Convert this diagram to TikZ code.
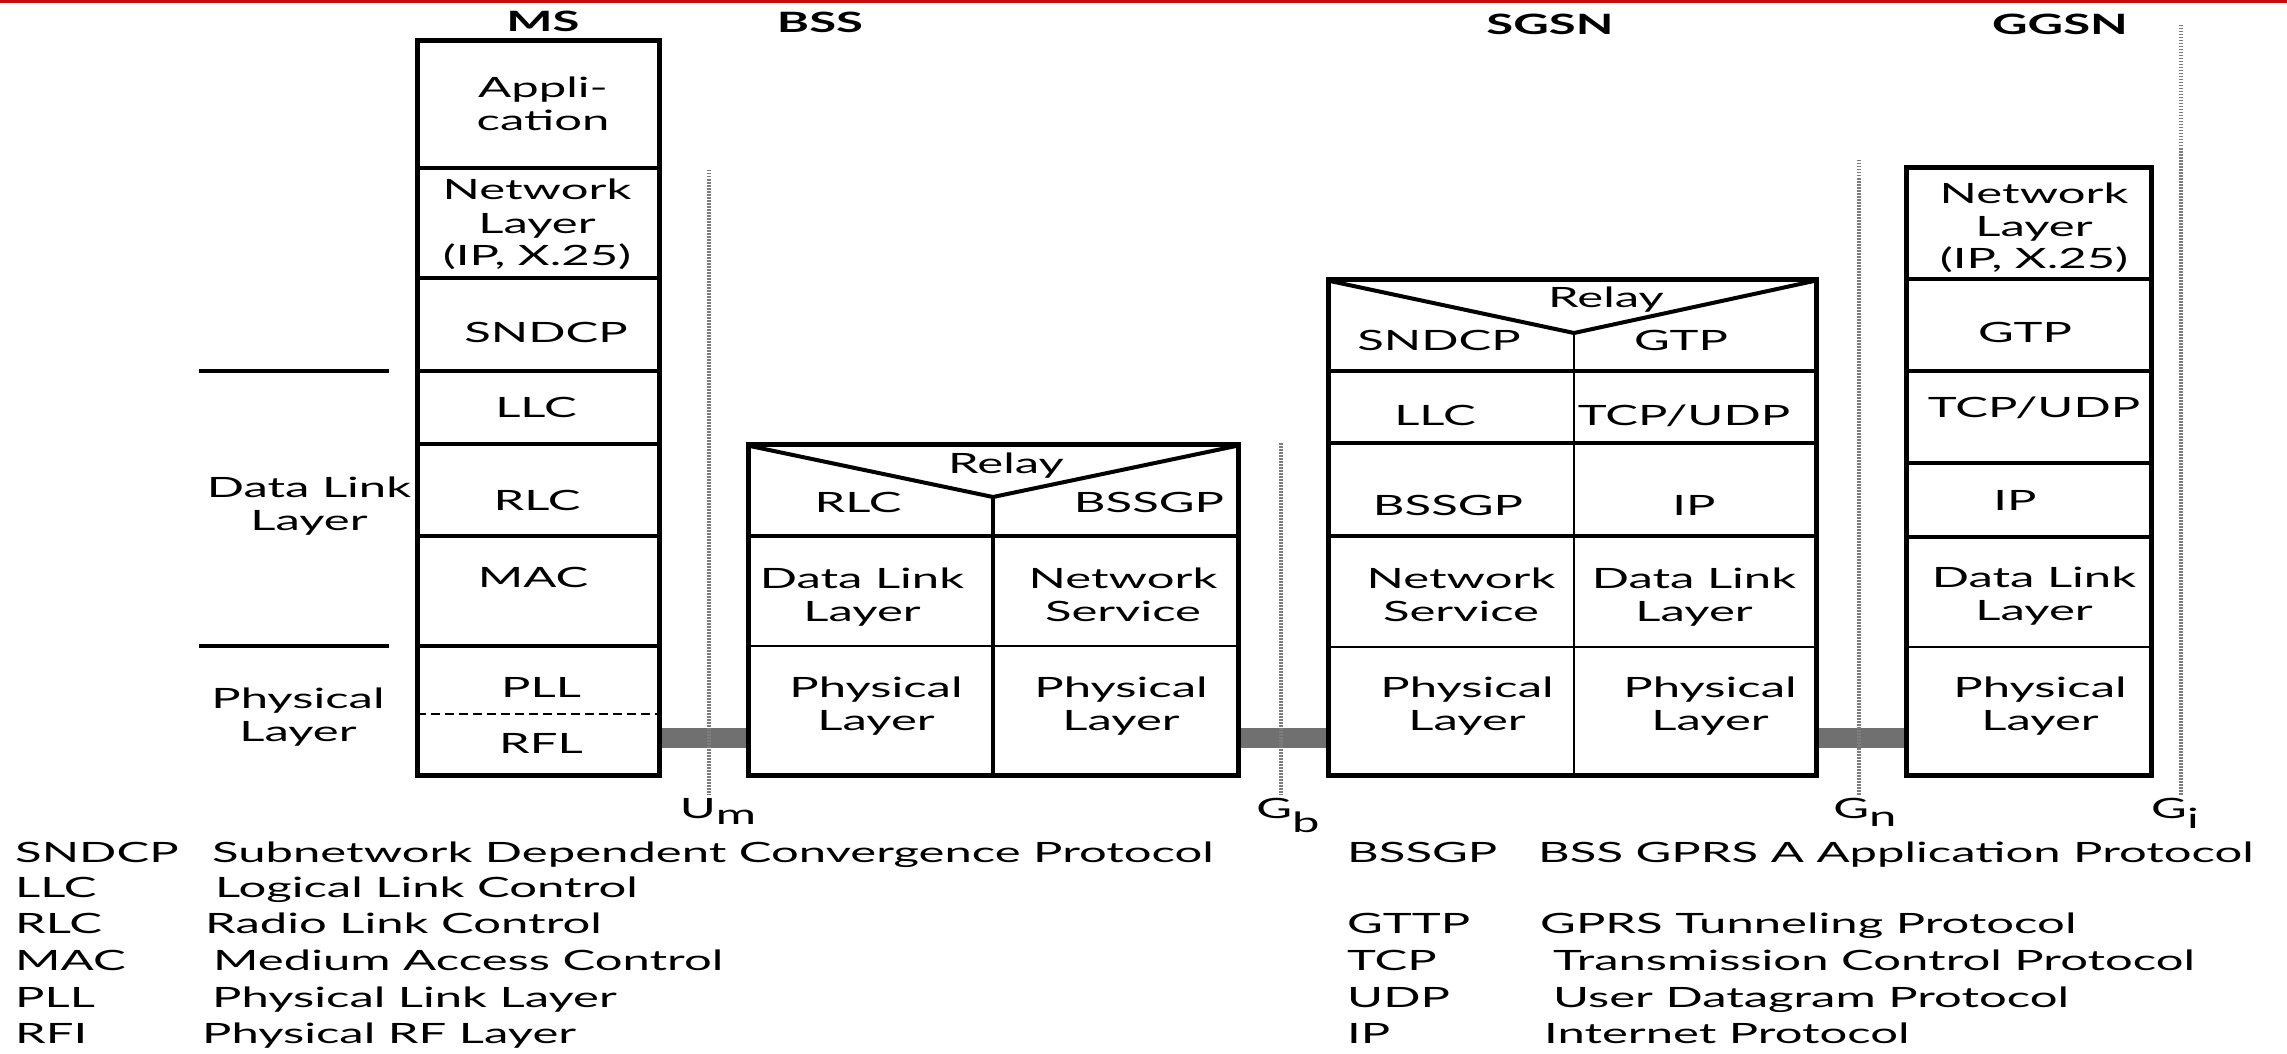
\documentclass[tikz,border=0pt]{standalone}
\usepackage{fontspec}
\setmainfont{Lato}
\usepackage{graphicx}
\newcommand{\fsz}{\fontsize{28}{33}\selectfont}
\newcommand{\st}[1]{\scalebox{1.75}[1]{\begin{tabular}[t]{@{}c@{}}#1\end{tabular}}}
\newcommand{\stl}[1]{\scalebox{1.75}[1]{#1}}
\definecolor{barc}{RGB}{112,112,112}
\definecolor{dotc}{RGB}{125,125,125}
\definecolor{redc}{RGB}{200,10,10}
\begin{document}
\begin{tikzpicture}[x=1pt,y=-1pt,
  lbl/.style={anchor=base,inner sep=0pt,font=\fsz},
  hdr/.style={anchor=base,inner sep=0pt,font=\fsz\bfseries},
  leg/.style={anchor=base west,inner sep=0pt,font=\fsz},
  outer/.style={line width=5pt},
  divthick/.style={line width=4pt},
  divthin/.style={line width=2.5pt},
  ifline/.style={draw=dotc,line width=3.5pt,dash pattern=on 1.5pt off 1.5pt},
  bar/.style={fill=barc,draw=none}]
\useasboundingbox (0,0) rectangle (2287,1054);
\fill[redc] (0,0) rectangle (2287,3);

% ---------- headers ----------
\node[hdr] (hMS) at (543,32) {\stl{MS}};
\node[hdr] (hBSS) at (820,33) {\stl{BSS}};
\node[hdr] (hSGSN) at (1550,35) {\stl{SGSN}};
\node[hdr] (hGGSN) at (2060,35) {\stl{GGSN}};

% ---------- gray bars ----------
\fill[bar] (659,728) rectangle (748,748);
\fill[bar] (1238,728) rectangle (1328,748);
\fill[bar] (1816,728) rectangle (1906,748);

% ---------- interface lines ----------
\coordinate (um1) at (709,170); \coordinate (um2) at (709,795);
\coordinate (gb1) at (1281,443); \coordinate (gb2) at (1281,795);
\coordinate (gn1) at (1859,160); \coordinate (gn2) at (1859,795);
\coordinate (gi1) at (2181,25);  \coordinate (gi2) at (2181,795);
\draw[ifline] (um1) -- (um2);
\draw[ifline] (gb1) -- (gb2);
\draw[ifline] (gn1) -- (gn2);
\draw[ifline] (gi1) -- (gi2);
\node[lbl] (lUm) at (718,818) {\stl{U\raisebox{-6pt}{m}}};
\node[lbl] (lGb) at (1288,818) {\stl{G\raisebox{-14pt}{b}}};
\node[lbl] (lGn) at (1865,818) {\stl{G\raisebox{-8pt}{n}}};
\node[lbl] (lGi) at (2175,818) {\stl{G\raisebox{-10pt}{i}}};

% ---------- MS stack ----------
\draw[divthick] (417,168) -- (659,168);
\draw[divthick] (417,278) -- (659,278);
\draw[divthick] (417,371) -- (659,371);
\draw[divthick] (417,444) -- (659,444);
\draw[divthick] (417,536) -- (659,536);
\draw[divthick] (417,646) -- (659,646);
\draw[line width=2.5pt,dash pattern=on 9pt off 5pt] (417,714) -- (659,714);
\draw[outer] (417,41) rectangle (659,775);
\node[lbl] (msApp) at (543,98) {\st{Appli-\\cation}};
\node[lbl] (msNL) at (537,200) {\st{Network\\Layer\\(IP, X.25)}};
\node[lbl] (msSN) at (546,342) {\stl{SNDCP}};
\node[lbl] (msLLC) at (536,417) {\stl{LLC}};
\node[lbl] (msRLC) at (537,510) {\stl{RLC}};
\node[lbl] (msMAC) at (533,587) {\stl{MAC}};
\node[lbl] (msPLL) at (541,697) {\stl{PLL}};
\node[lbl] (msRFL) at (541,753) {\stl{RFL}};

% left brackets
\draw[divthick] (199,371) -- (389,371);
\draw[divthick] (199,646) -- (389,646);
\node[lbl] (dll) at (309,497) {\st{Data Link\\Layer}};
\node[lbl] (phy) at (298,708) {\st{Physical\\Layer}};

% ---------- BSS ----------
\draw[divthick] (748,536) -- (1238,536);
\draw[divthin] (748,646) -- (1238,646);
\draw[divthick] (993,497) -- (993,775);
\draw[divthick,line join=miter] (750,446) -- (993,497) -- (1236,446);
\draw[outer] (748,444) rectangle (1238,775);
\node[lbl] (bRelay) at (1006,473) {\stl{Relay}};
\node[lbl] (bRLC) at (858,512) {\stl{RLC}};
\node[lbl] (bBSSGP) at (1149,512) {\stl{BSSGP}};
\node[lbl] (bDLL) at (862,588) {\st{Data Link\\Layer}};
\node[lbl] (bNS) at (1123,588) {\st{Network\\Service}};
\node[lbl] (bPL1) at (876,697) {\st{Physical\\Layer}};
\node[lbl] (bPL2) at (1121,697) {\st{Physical\\Layer}};

% ---------- SGSN ----------
\draw[divthick] (1328,371) -- (1816,371);
\draw[divthick] (1328,443) -- (1816,443);
\draw[divthick] (1328,536) -- (1816,536);
\draw[divthin] (1328,647) -- (1816,647);
\draw[divthin] (1574,333) -- (1574,775);
\draw[divthick,line join=miter] (1330,281) -- (1574,333) -- (1814,281);
\draw[outer] (1328,279) rectangle (1816,775);
\node[lbl] (sRelay) at (1606,307) {\stl{Relay}};
\node[lbl] (sSN) at (1439,350) {\stl{SNDCP}};
\node[lbl] (sGTP) at (1681,350) {\stl{GTP}};
\node[lbl] (sLLC) at (1435,425) {\stl{LLC}};
\node[lbl] (sTCP) at (1684,425) {\stl{TCP/UDP}};
\node[lbl] (sBSSGP) at (1448,515) {\stl{BSSGP}};
\node[lbl] (sIP) at (1694,515) {\stl{IP}};
\node[lbl] (sNS) at (1461,588) {\st{Network\\Service}};
\node[lbl] (sDLL) at (1694,588) {\st{Data Link\\Layer}};
\node[lbl] (sPL1) at (1467,697) {\st{Physical\\Layer}};
\node[lbl] (sPL2) at (1710,697) {\st{Physical\\Layer}};

% ---------- GGSN ----------
\draw[divthick] (1906,279) -- (2151,279);
\draw[divthick] (1906,371) -- (2151,371);
\draw[divthick] (1906,463) -- (2151,463);
\draw[divthick] (1906,537) -- (2151,537);
\draw[divthin] (1906,647) -- (2151,647);
\draw[outer] (1906,168) rectangle (2151,775);
\node[lbl] (gNL) at (2034,203) {\st{Network\\Layer\\(IP, X.25)}};
\node[lbl] (gGTP) at (2025,342) {\stl{GTP}};
\node[lbl] (gTCP) at (2034,417) {\stl{TCP/UDP}};
\node[lbl] (gIP) at (2015,510) {\stl{IP}};
\node[lbl] (gDLL) at (2034,587) {\st{Data Link\\Layer}};
\node[lbl] (gPL) at (2040,697) {\st{Physical\\Layer}};

% ---------- legend ----------
\node[leg] (a1) at (15,862) {\stl{SNDCP}};
\node[leg] (d1) at (212,862) {\stl{Subnetwork Dependent Convergence Protocol}};
\node[leg] (a2) at (15,897) {\stl{LLC}};
\node[leg] (d2) at (215,897) {\stl{Logical Link Control}};
\node[leg] (a3) at (15,933) {\stl{RLC}};
\node[leg] (d3) at (205,933) {\stl{Radio Link Control}};
\node[leg] (a4) at (15,970) {\stl{MAC}};
\node[leg] (d4) at (213,970) {\stl{Medium Access Control}};
\node[leg] (a5) at (15,1007) {\stl{PLL}};
\node[leg] (d5) at (212,1007) {\stl{Physical Link Layer}};
\node[leg] (a6) at (15,1043) {\stl{RFI}};
\node[leg] (d6) at (202,1043) {\stl{Physical RF Layer}};

\node[leg] (b1) at (1347,862) {\stl{BSSGP}};
\node[leg] (e1) at (1538,862) {\stl{BSS GPRS A Application Protocol}};
\node[leg] (b2) at (1347,933) {\stl{GTTP}};
\node[leg] (e2) at (1540,933) {\stl{GPRS Tunneling Protocol}};
\node[leg] (b3) at (1347,970) {\stl{TCP}};
\node[leg] (e3) at (1553,970) {\stl{Transmission Control Protocol}};
\node[leg] (b4) at (1347,1007) {\stl{UDP}};
\node[leg] (e4) at (1553,1007) {\stl{User Datagram Protocol}};
\node[leg] (b5) at (1347,1043) {\stl{IP}};
\node[leg] (e5) at (1544,1043) {\stl{Internet Protocol}};
\end{tikzpicture}
\end{document}
